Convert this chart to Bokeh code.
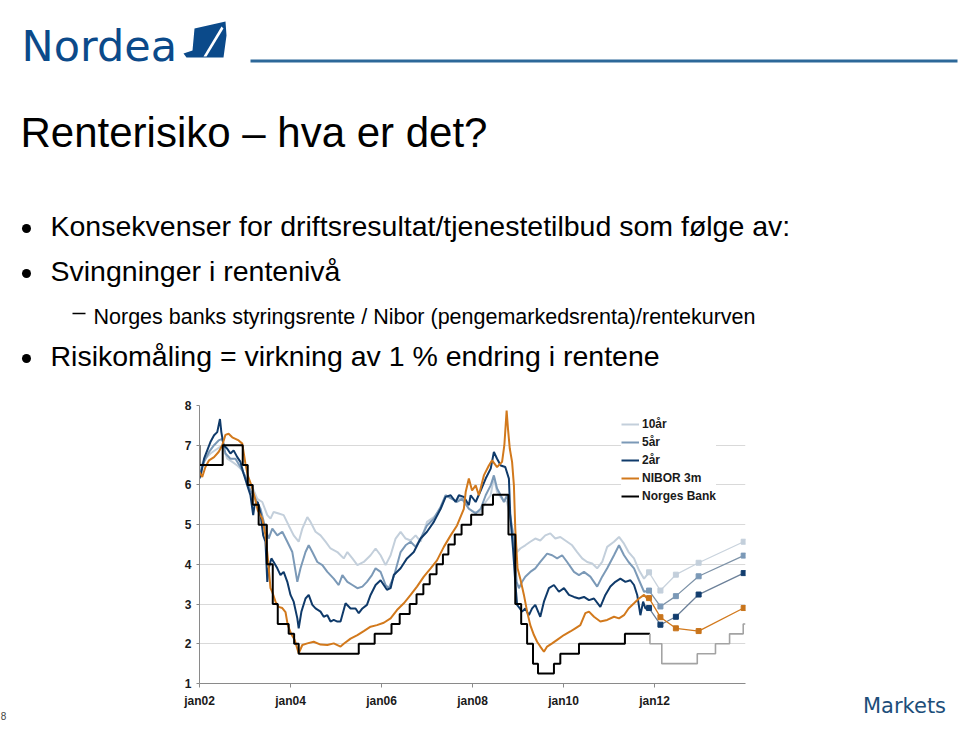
from bokeh.plotting import figure
from bokeh.layouts import column, row
from bokeh.models import Legend, LegendItem, FixedTicker, Range1d
from bokeh.core.properties import value
from bokeh.embed import file_html
from bokeh.resources import INLINE

# ---------------- data ----------------
series_names = ["10år", "5år", "2år", "NIBOR 3m", "Norges Bank"]
x_ticks = [2002, 2004, 2006, 2008, 2010, 2012]
x_tick_labels = ["jan02", "jan04", "jan06", "jan08", "jan10", "jan12"]
y_ticks = [1, 2, 3, 4, 5, 6, 7, 8]

t_10 = [2002.00, 2002.10, 2002.24, 2002.39, 2002.50, 2002.61, 2002.72, 2002.83, 2002.94, 2003.05,
        2003.16, 2003.27, 2003.38, 2003.49, 2003.56, 2003.63, 2003.74, 2003.85, 2003.96, 2004.07,
        2004.18, 2004.26, 2004.37, 2004.44, 2004.55, 2004.66, 2004.77, 2004.88, 2005.03, 2005.17,
        2005.25, 2005.36, 2005.47, 2005.61, 2005.76, 2005.87, 2005.98, 2006.09, 2006.20, 2006.31,
        2006.42, 2006.53, 2006.64, 2006.75, 2006.86, 2007.00, 2007.15, 2007.30, 2007.41, 2007.55,
        2007.66, 2007.77, 2007.92, 2008.03, 2008.18, 2008.29, 2008.40, 2008.47, 2008.54, 2008.65,
        2008.76, 2008.83, 2008.91, 2008.98, 2009.05, 2009.16, 2009.27, 2009.38, 2009.49, 2009.60,
        2009.71, 2009.82, 2009.93, 2010.08, 2010.19, 2010.30, 2010.41, 2010.52, 2010.63, 2010.74,
        2010.85, 2010.96, 2011.11, 2011.22, 2011.33, 2011.43, 2011.55, 2011.66, 2011.77, 2011.88]
r_10 = [6.41, 6.62, 6.79, 6.91, 7.00, 6.66, 6.58, 6.49, 6.37, 6.12,
        5.95, 5.65, 5.57, 5.24, 5.15, 5.32, 5.28, 5.24, 4.98, 4.73,
        4.57, 4.90, 5.19, 5.07, 4.82, 4.73, 4.57, 4.40, 4.31, 4.15,
        4.31, 4.15, 3.98, 4.06, 4.23, 4.40, 4.23, 3.98, 4.23, 4.65,
        4.82, 4.65, 4.60, 4.73, 4.57, 5.07, 5.19, 5.40, 5.74, 5.65,
        5.61, 5.70, 5.40, 5.32, 5.32, 5.57, 5.74, 6.20, 5.82, 5.65,
        5.57, 5.15, 4.73, 4.31, 4.40, 4.48, 4.57, 4.65, 4.60, 4.73,
        4.78, 4.65, 4.69, 4.57, 4.48, 4.31, 4.15, 4.06, 4.02, 3.90,
        4.06, 4.44, 4.57, 4.69, 4.52, 4.31, 4.15, 3.85, 3.64, 3.80]

t_5 = [2002.00, 2002.10, 2002.21, 2002.32, 2002.42, 2002.50, 2002.57, 2002.68, 2002.79, 2002.90,
       2003.01, 2003.12, 2003.23, 2003.34, 2003.45, 2003.52, 2003.60, 2003.71, 2003.82, 2003.93,
       2004.04, 2004.15, 2004.22, 2004.33, 2004.40, 2004.48, 2004.59, 2004.70, 2004.81, 2004.95,
       2005.06, 2005.14, 2005.25, 2005.36, 2005.47, 2005.58, 2005.68, 2005.79, 2005.87, 2005.98,
       2006.09, 2006.16, 2006.27, 2006.42, 2006.53, 2006.64, 2006.75, 2006.86, 2007.00, 2007.15,
       2007.30, 2007.41, 2007.55, 2007.66, 2007.77, 2007.92, 2008.07, 2008.18, 2008.29, 2008.40,
       2008.47, 2008.54, 2008.62, 2008.69, 2008.76, 2008.83, 2008.91, 2008.97, 2009.02, 2009.09,
       2009.16, 2009.27, 2009.38, 2009.49, 2009.64, 2009.75, 2009.86, 2009.97, 2010.08, 2010.23,
       2010.34, 2010.45, 2010.59, 2010.74, 2010.85, 2010.96, 2011.11, 2011.22, 2011.33, 2011.43,
       2011.55, 2011.66, 2011.77, 2011.88]
r_5 = [6.28, 6.58, 6.83, 7.00, 7.12, 7.16, 6.79, 6.66, 6.66, 6.45,
       6.20, 5.86, 5.65, 5.40, 4.90, 4.65, 4.90, 4.73, 4.82, 4.57,
       4.31, 3.56, 3.90, 4.31, 4.48, 4.31, 4.06, 3.98, 3.81, 3.64,
       3.48, 3.73, 3.56, 3.48, 3.40, 3.44, 3.56, 3.73, 3.90, 3.81,
       3.48, 3.40, 3.69, 4.31, 4.48, 4.57, 4.44, 4.65, 4.98, 5.15,
       5.45, 5.74, 5.65, 5.57, 5.65, 5.40, 5.28, 5.40, 5.74, 5.99,
       6.24, 5.91, 5.74, 5.57, 5.74, 5.24, 4.57, 3.56, 3.40, 3.56,
       3.69, 3.81, 3.90, 4.06, 4.27, 4.23, 4.15, 4.23, 4.06, 3.81,
       3.73, 3.81, 3.69, 3.44, 3.69, 3.90, 4.23, 4.48, 4.23, 4.06,
       3.90, 3.60, 3.31, 3.34]

t_2 = [2002.00, 2002.04, 2002.10, 2002.17, 2002.24, 2002.32, 2002.39, 2002.45, 2002.48, 2002.53,
       2002.61, 2002.68, 2002.75, 2002.83, 2002.90, 2002.97, 2003.05, 2003.12, 2003.18, 2003.21,
       2003.28, 2003.34, 2003.40, 2003.45, 2003.49, 2003.52, 2003.58, 2003.63, 2003.71, 2003.78,
       2003.85, 2003.93, 2004.00, 2004.07, 2004.15, 2004.18, 2004.24, 2004.33, 2004.40, 2004.48,
       2004.55, 2004.66, 2004.73, 2004.81, 2004.88, 2004.95, 2005.03, 2005.10, 2005.21, 2005.32,
       2005.43, 2005.50, 2005.58, 2005.68, 2005.76, 2005.87, 2005.98, 2006.05, 2006.12, 2006.20,
       2006.27, 2006.42, 2006.56, 2006.71, 2006.86, 2007.00, 2007.15, 2007.30, 2007.41, 2007.52,
       2007.63, 2007.70, 2007.81, 2007.92, 2007.96, 2008.07, 2008.18, 2008.29, 2008.40, 2008.47,
       2008.54, 2008.62, 2008.72, 2008.80, 2008.83, 2008.89, 2008.94, 2008.98, 2009.04, 2009.09,
       2009.16, 2009.24, 2009.31, 2009.38, 2009.49, 2009.57, 2009.68, 2009.79, 2009.90, 2010.01,
       2010.12, 2010.23, 2010.34, 2010.45, 2010.56, 2010.67, 2010.81, 2010.92, 2011.03, 2011.14,
       2011.25, 2011.36, 2011.47, 2011.55, 2011.62, 2011.69, 2011.75, 2011.80, 2011.88]
r_2 = [6.16, 6.32, 6.66, 6.87, 7.08, 7.25, 7.33, 7.66, 7.33, 7.00,
       6.91, 6.79, 6.87, 6.70, 6.58, 6.28, 5.99, 5.74, 5.24, 5.49,
       5.57, 5.28, 4.73, 4.57, 3.56, 3.90, 4.15, 4.06, 3.90, 3.73,
       3.81, 3.56, 3.23, 3.06, 2.64, 2.39, 2.81, 3.14, 3.23, 2.98,
       2.89, 2.81, 2.68, 2.72, 2.56, 2.60, 2.56, 2.56, 3.02, 2.89,
       2.89, 2.77, 2.89, 2.98, 3.23, 3.48, 3.60, 3.48, 3.36, 3.40,
       3.73, 3.90, 4.15, 4.31, 4.65, 4.82, 5.07, 5.40, 5.70, 5.74,
       5.57, 5.74, 5.70, 5.49, 5.74, 5.57, 5.86, 6.16, 6.41, 6.83,
       6.66, 6.49, 6.45, 6.16, 5.24, 4.40, 3.56, 2.98, 2.89, 2.81,
       2.89, 2.72, 2.89, 2.98, 2.68, 3.06, 3.40, 3.48, 3.31, 3.40,
       3.23, 3.18, 3.14, 3.18, 3.10, 3.14, 2.93, 3.23, 3.44, 3.56,
       3.64, 3.56, 3.60, 3.48, 3.23, 2.72, 3.06, 2.89, 2.90]

t_nibor = [2002.00, 2002.06, 2002.13, 2002.21, 2002.32, 2002.42, 2002.50, 2002.57, 2002.64, 2002.72,
           2002.79, 2002.86, 2002.94, 2003.01, 2003.06, 2003.14, 2003.21, 2003.28, 2003.38, 2003.45,
           2003.51, 2003.56, 2003.60, 2003.67, 2003.74, 2003.82, 2003.89, 2003.94, 2004.01, 2004.09,
           2004.18, 2004.26, 2004.37, 2004.51, 2004.66, 2004.81, 2004.95, 2005.10, 2005.17, 2005.32,
           2005.47, 2005.61, 2005.76, 2005.90, 2006.05, 2006.20, 2006.34, 2006.49, 2006.64, 2006.78,
           2006.93, 2007.08, 2007.22, 2007.37, 2007.52, 2007.66, 2007.81, 2007.85, 2007.92, 2007.99,
           2008.07, 2008.14, 2008.25, 2008.36, 2008.43, 2008.54, 2008.65, 2008.70, 2008.75, 2008.78,
           2008.82, 2008.87, 2008.91, 2008.94, 2008.99, 2009.05, 2009.13, 2009.20, 2009.27, 2009.35,
           2009.42, 2009.49, 2009.57, 2009.64, 2009.75, 2009.86, 2010.01, 2010.15, 2010.26, 2010.37,
           2010.48, 2010.56, 2010.67, 2010.81, 2010.96, 2011.11, 2011.22, 2011.33, 2011.43, 2011.55,
           2011.66, 2011.77, 2011.84, 2011.88]
r_nibor = [6.32, 6.20, 6.45, 6.62, 6.70, 6.83, 7.00, 7.26, 7.29, 7.20,
           7.16, 7.12, 7.04, 6.53, 6.24, 5.99, 5.70, 5.36, 5.15, 4.73,
           4.06, 3.40, 3.30, 3.06, 2.93, 2.90, 2.80, 2.47, 2.26, 2.10,
           1.76, 1.97, 2.01, 2.05, 1.98, 1.97, 2.01, 1.93, 2.00, 2.13,
           2.22, 2.32, 2.43, 2.47, 2.53, 2.64, 2.85, 3.02, 3.23, 3.44,
           3.69, 3.90, 4.10, 4.44, 4.73, 4.98, 5.40, 5.82, 6.16, 5.86,
           5.99, 5.74, 6.24, 6.49, 6.62, 6.45, 6.58, 7.00, 7.87, 7.41,
           6.91, 6.58, 5.99, 4.90, 3.90, 3.64, 3.23, 2.81, 2.47, 2.22,
           2.05, 1.93, 1.80, 1.93, 2.01, 2.10, 2.22, 2.31, 2.39, 2.47,
           2.77, 2.81, 2.68, 2.56, 2.60, 2.68, 2.64, 2.72, 2.89, 3.02,
           3.14, 3.23, 3.14, 3.15]

# Norges Bank policy rate: change dates and new level
t_nb = [2002.00, 2002.00, 2002.51, 2002.95, 2003.06, 2003.17, 2003.30, 2003.48, 2003.61, 2003.72,
        2003.96, 2004.08, 2004.18, 2005.50, 2005.85, 2006.22, 2006.40, 2006.62, 2006.77, 2006.92,
        2007.06, 2007.21, 2007.35, 2007.47, 2007.61, 2007.76, 2007.97, 2008.22, 2008.45, 2008.79,
        2008.94, 2009.07, 2009.20, 2009.33, 2009.44, 2009.79, 2009.93, 2010.34, 2011.35, 2011.90]
r_nb = [7.00, 6.50, 7.00, 6.50, 6.00, 5.50, 5.00, 4.00, 3.00, 2.50,
        2.25, 2.00, 1.75, 2.00, 2.25, 2.50, 2.75, 3.00, 3.25, 3.50,
        3.75, 4.00, 4.25, 4.50, 4.75, 5.00, 5.25, 5.50, 5.75, 4.75,
        3.00, 2.50, 2.00, 1.50, 1.25, 1.50, 1.75, 2.00, 2.25, 2.25]

# forecasts (curve implied path)
t_fc = [2011.88, 2012.13, 2012.47, 2012.97, 2013.96]
fc_10 = [3.80, 3.34, 3.74, 4.04, 4.57]
fc_5 = [3.34, 2.94, 3.20, 3.70, 4.22]
fc_2 = [2.90, 2.48, 2.68, 3.24, 3.78]
fc_nibor = [3.15, 2.67, 2.39, 2.32, 2.90]
t_nb_fc = [2011.90, 2011.90, 2012.16, 2012.94, 2013.34, 2013.65, 2013.95, 2014.00]
r_nb_fc = [2.25, 2.00, 1.50, 1.75, 2.00, 2.25, 2.50, 2.50]

# ---------------- layout constants ----------------
W, H = 960, 745
HEAD_H = 395           # header strip height
LEFT_W = 20            # left strip width (page number)
CHART_W = 780          # chart figure width
RIGHT_W = W - LEFT_W - CHART_W
FL, FR, FT, FB = 199, 745, 405, 683   # chart frame on the page
X0, X1, Y0, Y1 = 2002.0, 2014.0, 1.0, 8.0
BT, BB = FT - HEAD_H, H - FB          # top / bottom borders of the lower row

C10, C5, C2, CNI, CNB, CNBF = "#c3cfdb", "#7b99b7", "#0f3a6a", "#d2791c", "#000000", "#a3a3a3"
FONT = "Liberation Sans"


def blank(w, h, x0, y0):
    f = figure(width=w, height=h, output_backend="svg", toolbar_location=None,
               x_range=Range1d(x0, x0 + w), y_range=Range1d(y0 + h, y0),
               x_axis_location=None, y_axis_location=None,
               min_border=0, min_border_left=0, min_border_right=0,
               min_border_top=0, min_border_bottom=0)
    f.grid.visible = False
    f.outline_line_color = None
    f.background_fill_color = "white"
    f.border_fill_color = "white"
    return f


def txt(f, x, base, s, size, font=FONT, color="#000000"):
    # base = wanted baseline (page px); renderer puts the baseline ~0.41*size below y
    f.text(x=[x], y=[base - 0.41 * size], text=[s], text_font=value(font),
           text_font_size=value(f"{size}px"), text_color=color, text_align="left",
           text_baseline="alphabetic")


# ---------------- header (logo, title, bullets) ----------------
head = blank(W, HEAD_H, 0, 0)
head.patch([194, 225, 226, 223, 186, 183, 192], [28, 21, 35, 57, 57, 53, 50],
           fill_color="#0b4a8a", line_color=None)
head.patch([203, 221, 223, 206], [56, 26, 28, 56], fill_color="white", line_color=None)
head.quad(left=[250], right=[957], top=[59], bottom=[62], fill_color="#2d6899",
          line_color=None)
txt(head, 21, 63, "Nordea", 43, font="DejaVu Sans", color="#0b4a8a")
txt(head, 20, 149, "Renterisiko – hva er det?", 42)
head.scatter([26, 26, 26], [228, 273, 358], size=9, marker="circle",
             fill_color="black", line_color=None)
txt(head, 50, 237, "Konsekvenser for driftsresultat/tjenestetilbud som følge av:", 28.5)
txt(head, 50, 282, "Svingninger i rentenivå", 28.5)
head.segment(x0=[72], y0=[313], x1=[85], y1=[313], line_color="black", line_width=1.5)
txt(head, 93, 325, "Norges banks styringsrente / Nibor (pengemarkedsrenta)/rentekurven", 21.5)
txt(head, 50, 367, "Risikomåling = virkning av 1 % endring i rentene", 28.5)


# ---------------- side strips: text carried by an x axis below the frame ----------------
def strip(w, x0, label, lx, size, font, color, standoff):
    f = figure(width=w, height=H - HEAD_H, output_backend="svg", toolbar_location=None,
               x_range=Range1d(x0, x0 + w), y_range=Range1d(0, 1), y_axis_location=None,
               min_border_left=0, min_border_right=0, min_border_top=BT,
               min_border_bottom=BB)
    f.grid.visible = False
    f.outline_line_color = None
    f.background_fill_color = "white"
    f.border_fill_color = "white"
    ax = f.xaxis[0]
    ax.ticker = FixedTicker(ticks=[lx])
    ax.major_label_overrides = {lx: label}
    ax.axis_line_color = None
    ax.major_tick_line_color = None
    ax.minor_tick_line_color = None
    ax.major_tick_in = 0
    ax.major_tick_out = 0
    ax.major_label_standoff = standoff
    ax.major_label_text_font = font
    ax.major_label_text_font_size = f"{size}px"
    ax.major_label_text_color = color
    return f


left = strip(LEFT_W, 0, "8", 3, 10, FONT, "#444444", 28)
right = strip(RIGHT_W, LEFT_W + CHART_W, "Markets", 904, 21, "DejaVu Sans", "#1d4e7a", 10)

# ---------------- chart ----------------
p = figure(width=CHART_W, height=H - HEAD_H, output_backend="svg", toolbar_location=None,
           x_range=Range1d(X0, X1), y_range=Range1d(Y0, Y1),
           min_border_left=FL - LEFT_W, min_border_right=LEFT_W + CHART_W - FR,
           min_border_top=BT, min_border_bottom=BB)
p.outline_line_color = None
p.background_fill_color = "white"
p.border_fill_color = "white"

p.xaxis.ticker = FixedTicker(ticks=x_ticks)
p.xaxis.major_label_overrides = {t: l for t, l in zip(x_ticks, x_tick_labels)}
p.yaxis.ticker = FixedTicker(ticks=y_ticks)
for ax in (p.xaxis, p.yaxis):
    ax.axis_line_color = "#8a8a8a"
    ax.major_tick_line_color = "#8a8a8a"
    ax.minor_tick_line_color = None
    ax.major_tick_in = 0
    ax.major_tick_out = 4
    ax.major_label_text_font = FONT
    ax.major_label_text_font_style = "bold"
    ax.major_label_text_font_size = "12px"
    ax.major_label_text_color = "#1a1a1a"
p.yaxis.major_tick_out = 3
p.yaxis.major_label_standoff = 5
p.xaxis.major_label_standoff = 6
p.xgrid.visible = False
p.ygrid.grid_line_color = "#d9d9d9"

r10 = p.line(t_10, r_10, line_color=C10, line_width=2)
r5 = p.line(t_5, r_5, line_color=C5, line_width=2)
r2 = p.line(t_2, r_2, line_color=C2, line_width=2)
rni = p.line(t_nibor, r_nibor, line_color=CNI, line_width=2)
rnb = p.step(t_nb, r_nb, mode="after", line_color=CNB, line_width=2)

p.step(t_nb_fc, r_nb_fc, mode="after", line_color=CNBF, line_width=1.6)
for vals, lc, mc in ((fc_10, "#c9d3dd", "#c3cfdb"), (fc_5, "#7e93a8", "#7b99b7"),
                     (fc_2, "#6c8099", "#123d6e"), (fc_nibor, "#d2791c", "#c8741b")):
    p.line(t_fc, vals, line_color=lc, line_width=1.3)
    p.scatter(t_fc, vals, marker="square", size=5, fill_color=mc, line_color=mc)

legend = Legend(items=[LegendItem(label=n, renderers=[r]) for n, r in
                       zip(series_names, [r10, r5, r2, rni, rnb])],
                location=(422, 180), border_line_color=None, background_fill_color="white",
                background_fill_alpha=1.0, padding=4, margin=0, spacing=4,
                glyph_width=18, glyph_height=14, label_height=14, label_standoff=3,
                label_text_font=FONT, label_text_font_style="bold",
                label_text_font_size="12px", label_text_color="#1a1a1a")
p.add_layout(legend)

page = column(head, row(left, p, right, spacing=0), spacing=0)
open("out.html", "w").write(file_html(page, INLINE))
